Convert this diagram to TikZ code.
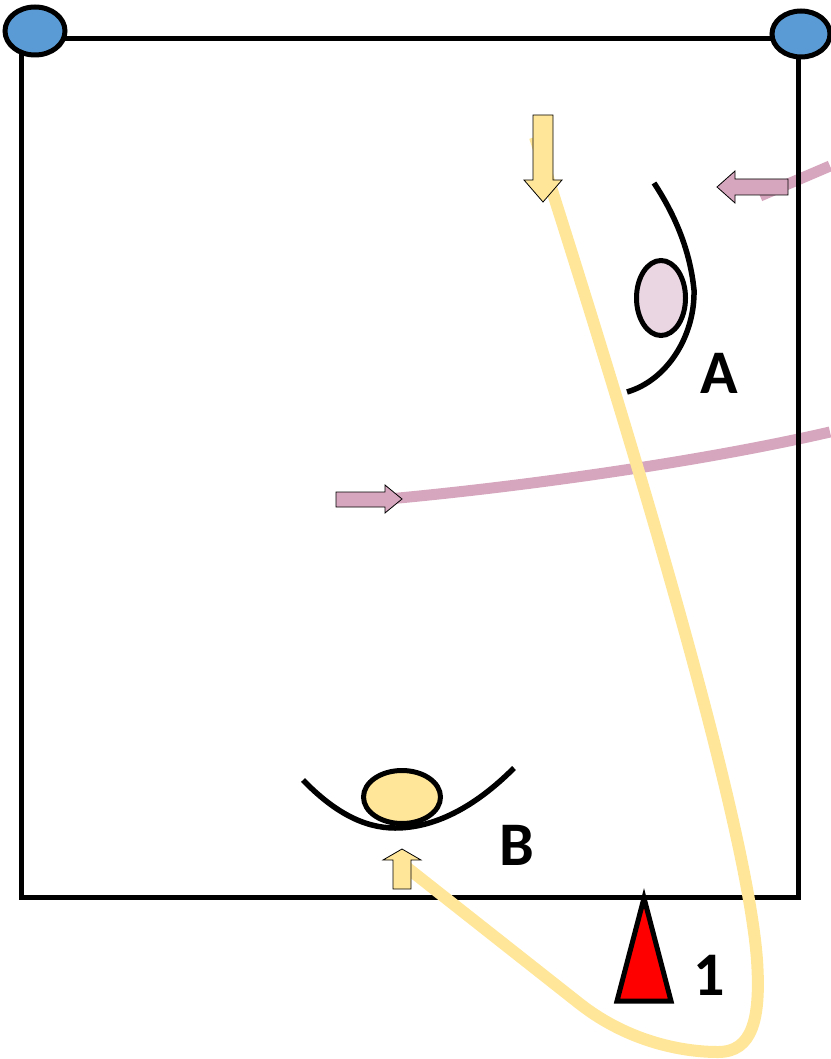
\documentclass[tikz,border=0pt]{standalone}
\usepackage{fontspec}
\setmainfont{Carlito}
\usetikzlibrary{shapes.geometric}

\definecolor{runyellow}{HTML}{FFE699}
\definecolor{passpink}{HTML}{D5A6BD}
\definecolor{palepink}{HTML}{E9D6E2}
\definecolor{coneblue}{HTML}{5B9BD5}

\begin{document}
\begin{tikzpicture}[x=1pt, y=-1pt, line width=5pt,
  run/.style={draw=runyellow, line width=12pt},
  pass/.style={draw=passpink, line width=11pt},
  marker/.style={ellipse, draw=black, line width=5pt, inner sep=0pt},
  cover/.style={line width=5.5pt},
  blockarrow/.style={draw=black, line width=0.8pt},
  letter/.style={inner sep=0pt, font=\fontsize{62}{62}\selectfont\bfseries}]

\useasboundingbox (0,0) rectangle (830,1059);

% Passes
\coordinate (passAin) at (830,166);
\coordinate (passAend) at (760,196);
\draw[pass] (passAin) -- (passAend);
\coordinate (passBin) at (830,432);
\coordinate (passBend) at (388,499);
\draw[pass] (passBin) .. controls (700,462) and (520,487) .. (passBend);

% Area
\draw (21,39) rectangle (798,897);

% Corner markers
\foreach \n/\x/\y/\w/\h in {cornerleft/35/31/60/48, cornerright/801/34/58/46}
  \node[marker, fill=coneblue, minimum width=\w pt, minimum height=\h pt] (\n) at (\x,\y) {};

% Run
\coordinate (runstart) at (535,137);
\coordinate (runend) at (405,866);
\draw[run] (runstart) .. controls (600,340) and (745,800) .. (757,960)
  .. controls (761,1020) and (752,1052) .. (718,1052)
  .. controls (685,1052) and (630,1043) .. (580,1004) -- (runend);

% Player A
\draw[cover] (654,183) .. controls (675,215) and (690,250) .. (694,290)
  .. controls (695,335) and (668,380) .. (627,392);
\node[marker, fill=palepink, minimum width=49pt, minimum height=75pt] (playerA) at (661,298) {};

% Player B
\draw[cover] (303,780) .. controls (334,812) and (364,828) .. (395,828)
  .. controls (434,828) and (474,808) .. (514,768);
\node[marker, fill=runyellow, minimum width=77pt, minimum height=53pt] (playerB) at (402,797) {};

% Direction arrows
\draw[blockarrow, fill=runyellow] (533,115) -- (553,115) -- (553,180) -- (562,180)
  -- (543,202) -- (524,180) -- (533,180) -- cycle;
\draw[blockarrow, fill=runyellow] (393,889) -- (411,889) -- (411,860) -- (421,860)
  -- (402,849) -- (383,860) -- (393,860) -- cycle;
\draw[blockarrow, fill=passpink] (788,179) -- (788,195) -- (735,195) -- (735,203)
  -- (717,187) -- (735,171) -- (735,179) -- cycle;
\draw[blockarrow, fill=passpink] (336,492) -- (385,492) -- (385,485) -- (402,499)
  -- (385,513) -- (385,507) -- (336,507) -- cycle;

% Cone
\draw[fill=red, line width=5pt] (644,898) -- (671,1001) -- (617,1001) -- cycle;

% Labels
\node[letter] (labelA) at (719,373) {A};
\node[letter] (labelB) at (517,845) {B};
\node[letter] (labelone) at (709,975) {1};

\end{tikzpicture}
\end{document}
